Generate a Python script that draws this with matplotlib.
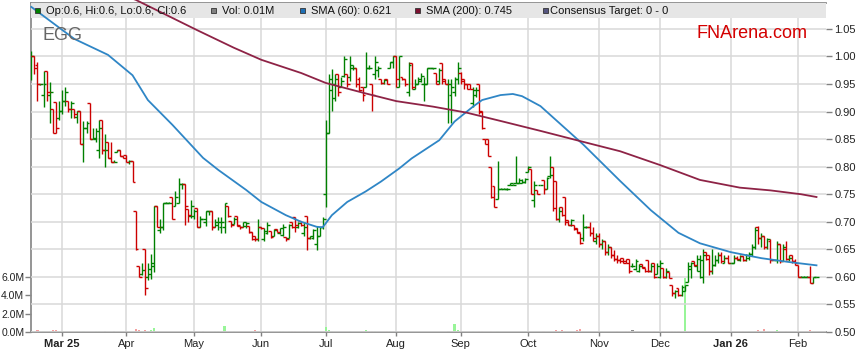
import numpy as np
import pandas as pd
import matplotlib
matplotlib.use('Agg')
import matplotlib.pyplot as plt
from matplotlib.collections import LineCollection
from matplotlib.patches import Rectangle

plt.rcParams['font.family'] = ['Liberation Sans', 'DejaVu Sans']

# trading days (weekdays) 17 Feb 2025 .. 10 Feb 2026
dates = pd.bdate_range('2025-02-17', '2026-02-10')

opens = [
    0.965, 1.000, 0.985, 0.950, 0.930, 0.974, 0.930, 0.904, 0.917, 0.889,  # Feb
    0.901, 0.920, 0.920, 0.904, 0.904, 0.890, 0.901, 0.841, 0.870, 0.916, 0.850,
    0.850, 0.830, 0.885, 0.830, 0.845, 0.815, 0.809, 0.826, 0.830, 0.820,  # Mar
    0.822, 0.809, 0.810, 0.720, 0.619, 0.605, 0.650, 0.600, 0.605, 0.620, 0.729,
    0.685, 0.690, 0.734, 0.734, 0.745, 0.729, 0.734, 0.768, 0.768, 0.723, 0.710,  # Apr
    0.710, 0.725, 0.691, 0.705, 0.700, 0.719, 0.719, 0.690, 0.695, 0.690, 0.690,
    0.729, 0.702, 0.696, 0.711, 0.693, 0.690, 0.692, 0.693, 0.682, 0.675, 0.668,  # May
    0.691, 0.668, 0.680, 0.684, 0.675, 0.687, 0.680, 0.676, 0.673, 0.670, 0.700,
    0.708, 0.690, 0.702, 0.680, 0.711, 0.670, 0.670, 0.660, 0.675, 0.690,  # Jun
    0.750, 0.862, 0.940, 0.925, 0.969, 0.945, 0.965, 0.969, 0.962, 0.980, 0.980, 0.960,
    0.944, 0.944, 0.980, 0.950, 0.968, 0.975, 0.960, 0.952, 0.960, 0.980, 0.990,  # Jul
    1.000, 0.944, 0.962, 0.959, 0.935, 0.989, 0.941, 0.950, 0.955, 0.950, 0.950,
    0.980, 0.980, 0.970, 0.955, 0.989, 0.960, 0.950, 0.930, 0.935, 0.960,  # Aug
    0.970, 0.960, 0.950, 0.950, 0.915, 0.930, 0.950, 0.901, 0.850, 0.850, 0.800,
    0.765, 0.741, 0.760, 0.760, 0.760, 0.766, 0.766, 0.770, 0.770, 0.770, 0.772,  # Sep
    0.790, 0.795, 0.740, 0.757, 0.766, 0.776, 0.760, 0.783, 0.800, 0.774, 0.705, 0.726,
    0.745, 0.704, 0.694, 0.695, 0.689, 0.680, 0.670, 0.690, 0.690, 0.680, 0.665,  # Oct
    0.675, 0.660, 0.665, 0.645, 0.655, 0.640, 0.632, 0.630, 0.635, 0.628,
    0.632, 0.620, 0.615, 0.610, 0.624, 0.616, 0.631, 0.610, 0.625, 0.605,  # Nov
    0.600, 0.617, 0.600, 0.609, 0.586, 0.570, 0.580, 0.568, 0.575, 0.590, 0.615, 0.628,
    0.620, 0.610, 0.600, 0.645, 0.640, 0.610, 0.622, 0.630, 0.640, 0.626, 0.635,  # Dec
    0.626, 0.626, 0.635, 0.630, 0.638, 0.630, 0.635, 0.642, 0.655, 0.690, 0.670,
    0.675, 0.655, 0.665, 0.630, 0.630, 0.660, 0.628, 0.650, 0.632, 0.640, 0.628,  # Jan
    0.622, 0.600, 0.600, 0.600, 0.600, 0.589, 0.600,  # Feb
]
highs = [
    1.010, 1.000, 0.990, 0.950, 0.974, 0.974, 0.953, 0.904, 0.917, 0.920,
    0.940, 0.945, 0.920, 0.920, 0.904, 0.901, 0.901, 0.883, 0.883, 0.916, 0.870,
    0.870, 0.885, 0.885, 0.860, 0.845, 0.845, 0.812, 0.830, 0.830, 0.820,
    0.822, 0.812, 0.810, 0.720, 0.619, 0.625, 0.650, 0.625, 0.641, 0.729, 0.729,
    0.705, 0.734, 0.736, 0.736, 0.745, 0.755, 0.779, 0.770, 0.768, 0.723, 0.739,
    0.723, 0.725, 0.710, 0.705, 0.719, 0.719, 0.719, 0.705, 0.708, 0.708, 0.735,
    0.729, 0.702, 0.708, 0.711, 0.693, 0.700, 0.700, 0.693, 0.682, 0.675, 0.705,
    0.691, 0.688, 0.700, 0.684, 0.687, 0.687, 0.688, 0.696, 0.673, 0.696, 0.700,
    0.708, 0.700, 0.702, 0.700, 0.711, 0.675, 0.687, 0.693, 0.691, 0.708,
    0.884, 0.969, 0.977, 0.969, 0.969, 0.962, 1.000, 0.969, 1.000, 0.985, 0.980, 0.962,
    0.944, 1.009, 0.985, 0.950, 1.000, 0.982, 0.960, 0.960, 0.960, 0.990, 1.000,
    1.000, 1.000, 0.962, 0.960, 0.990, 0.989, 0.960, 0.962, 0.970, 0.962, 0.980,
    0.980, 0.980, 0.970, 0.980, 0.989, 0.960, 0.960, 0.960, 0.962, 0.990,
    0.972, 0.960, 0.950, 0.950, 0.944, 0.944, 0.950, 0.901, 0.850, 0.850, 0.800,
    0.765, 0.810, 0.762, 0.762, 0.762, 0.771, 0.768, 0.820, 0.780, 0.777, 0.780,
    0.801, 0.795, 0.774, 0.757, 0.766, 0.776, 0.782, 0.820, 0.800, 0.774, 0.726, 0.726,
    0.745, 0.704, 0.705, 0.695, 0.689, 0.680, 0.715, 0.692, 0.700, 0.690, 0.680,
    0.680, 0.668, 0.665, 0.660, 0.655, 0.648, 0.640, 0.635, 0.635, 0.632,
    0.632, 0.625, 0.632, 0.624, 0.624, 0.616, 0.631, 0.625, 0.625, 0.626,
    0.631, 0.617, 0.617, 0.609, 0.586, 0.577, 0.580, 0.586, 0.586, 0.627, 0.627, 0.628,
    0.640, 0.640, 0.650, 0.645, 0.640, 0.650, 0.640, 0.645, 0.645, 0.640, 0.640,
    0.626, 0.640, 0.638, 0.640, 0.638, 0.642, 0.645, 0.660, 0.690, 0.692, 0.680,
    0.675, 0.670, 0.668, 0.630, 0.665, 0.660, 0.660, 0.665, 0.640, 0.640, 0.632,
    0.622, 0.602, 0.602, 0.602, 0.620, 0.600, 0.600,
]
lows = [
    0.957, 0.968, 0.920, 0.948, 0.909, 0.920, 0.880, 0.861, 0.861, 0.885,
    0.895, 0.910, 0.900, 0.889, 0.889, 0.880, 0.841, 0.809, 0.862, 0.850, 0.850,
    0.845, 0.815, 0.823, 0.800, 0.815, 0.809, 0.809, 0.826, 0.820, 0.815,
    0.809, 0.805, 0.773, 0.648, 0.599, 0.603, 0.568, 0.595, 0.596, 0.608, 0.691,
    0.680, 0.686, 0.734, 0.734, 0.705, 0.729, 0.734, 0.760, 0.694, 0.699, 0.707,
    0.705, 0.691, 0.691, 0.705, 0.692, 0.712, 0.686, 0.690, 0.686, 0.680, 0.680,
    0.708, 0.690, 0.696, 0.693, 0.687, 0.690, 0.689, 0.680, 0.667, 0.666, 0.665,
    0.687, 0.665, 0.677, 0.670, 0.675, 0.681, 0.678, 0.675, 0.666, 0.670, 0.688,
    0.681, 0.688, 0.693, 0.675, 0.649, 0.669, 0.668, 0.649, 0.675, 0.687,
    0.726, 0.862, 0.901, 0.920, 0.929, 0.944, 0.962, 0.944, 0.955, 0.975, 0.944, 0.937,
    0.920, 0.944, 0.978, 0.901, 0.960, 0.962, 0.950, 0.950, 0.950, 0.980, 0.980,
    0.944, 0.944, 0.958, 0.947, 0.929, 0.941, 0.941, 0.950, 0.953, 0.920, 0.950,
    0.980, 0.978, 0.950, 0.950, 0.950, 0.950, 0.880, 0.880, 0.929, 0.950,
    0.950, 0.941, 0.941, 0.941, 0.909, 0.927, 0.895, 0.868, 0.841, 0.820, 0.744,
    0.726, 0.741, 0.760, 0.760, 0.758, 0.766, 0.766, 0.770, 0.770, 0.770, 0.770,
    0.790, 0.750, 0.726, 0.750, 0.766, 0.750, 0.760, 0.780, 0.720, 0.704, 0.700, 0.710,
    0.695, 0.694, 0.692, 0.686, 0.680, 0.660, 0.665, 0.688, 0.675, 0.665, 0.660,
    0.655, 0.650, 0.640, 0.640, 0.635, 0.628, 0.625, 0.625, 0.625, 0.625,
    0.607, 0.618, 0.612, 0.609, 0.616, 0.609, 0.609, 0.609, 0.598, 0.605,
    0.598, 0.598, 0.598, 0.598, 0.565, 0.562, 0.565, 0.566, 0.574, 0.590, 0.598, 0.620,
    0.610, 0.598, 0.589, 0.630, 0.604, 0.605, 0.620, 0.625, 0.626, 0.626, 0.626,
    0.626, 0.626, 0.630, 0.628, 0.628, 0.628, 0.630, 0.638, 0.650, 0.660, 0.655,
    0.650, 0.650, 0.625, 0.630, 0.625, 0.625, 0.628, 0.630, 0.628, 0.626, 0.622,
    0.600, 0.600, 0.600, 0.600, 0.589, 0.589, 0.600,
]
closes = [
    1.000, 0.980, 0.950, 0.950, 0.950, 0.935, 0.935, 0.861, 0.870, 0.901,
    0.920, 0.935, 0.904, 0.915, 0.895, 0.901, 0.841, 0.870, 0.880, 0.850, 0.852,
    0.865, 0.870, 0.830, 0.830, 0.815, 0.809, 0.809, 0.830, 0.820, 0.815,
    0.809, 0.810, 0.773, 0.650, 0.599, 0.612, 0.580, 0.615, 0.625, 0.729, 0.691,
    0.690, 0.734, 0.734, 0.734, 0.705, 0.745, 0.768, 0.768, 0.729, 0.712, 0.729,
    0.720, 0.691, 0.705, 0.705, 0.719, 0.719, 0.690, 0.700, 0.700, 0.700, 0.734,
    0.710, 0.695, 0.705, 0.695, 0.690, 0.699, 0.697, 0.682, 0.668, 0.668, 0.691,
    0.688, 0.684, 0.695, 0.672, 0.685, 0.682, 0.688, 0.690, 0.668, 0.694, 0.690,
    0.695, 0.698, 0.695, 0.690, 0.670, 0.675, 0.685, 0.675, 0.690, 0.705,
    0.862, 0.960, 0.950, 0.960, 0.935, 0.955, 0.995, 0.950, 0.985, 0.980, 0.950, 0.940,
    0.930, 0.980, 0.980, 0.930, 0.990, 0.980, 0.952, 0.958, 0.950, 0.990, 1.000,
    0.960, 1.000, 0.960, 0.950, 0.985, 0.945, 0.950, 0.960, 0.965, 0.950, 0.980,
    0.980, 0.980, 0.950, 0.975, 0.955, 0.950, 0.950, 0.945, 0.960, 0.980,
    0.955, 0.950, 0.941, 0.941, 0.940, 0.940, 0.900, 0.870, 0.841, 0.820, 0.745,
    0.726, 0.760, 0.760, 0.760, 0.760, 0.770, 0.766, 0.770, 0.775, 0.772, 0.778,
    0.800, 0.750, 0.766, 0.750, 0.766, 0.760, 0.780, 0.785, 0.725, 0.705, 0.720, 0.712,
    0.700, 0.694, 0.703, 0.687, 0.682, 0.662, 0.690, 0.690, 0.680, 0.670, 0.675,
    0.660, 0.665, 0.645, 0.655, 0.640, 0.632, 0.630, 0.628, 0.626, 0.625,
    0.610, 0.620, 0.628, 0.620, 0.618, 0.610, 0.610, 0.620, 0.600, 0.620,
    0.625, 0.600, 0.610, 0.598, 0.570, 0.575, 0.568, 0.582, 0.585, 0.620, 0.625, 0.622,
    0.632, 0.630, 0.640, 0.632, 0.610, 0.622, 0.630, 0.640, 0.628, 0.635, 0.626,
    0.626, 0.635, 0.632, 0.638, 0.630, 0.640, 0.642, 0.655, 0.685, 0.670, 0.675,
    0.655, 0.668, 0.630, 0.630, 0.660, 0.628, 0.655, 0.632, 0.635, 0.628, 0.625,
    0.600, 0.600, 0.600, 0.600, 0.589, 0.600, 0.600,
]
# volume, millions of shares
volumes = [
    0.03, 0.03, 0.20, 0.03, 0.10, 0.03, 0.10, 0.22, 0.22, 0.10,
    0.07, 0.02, 0.02, 0.02, 0.02, 0.07, 0.02, 0.10, 0.02, 0.02, 0.02,
    0.10, 0.10, 0.02, 0.10, 0.02, 0.02, 0.10, 0.02, 0.02, 0.02,
    0.10, 0.02, 0.02, 0.33, 0.22, 0.11, 0.22, 0.11, 0.22, 0.44, 0.02,
    0.02, 0.02, 0.02, 0.02, 0.02, 0.02, 0.02, 0.02, 0.02, 0.02, 0.07,
    0.02, 0.02, 0.02, 0.10, 0.02, 0.02, 0.02, 0.07, 0.07, 0.02, 0.65,
    0.02, 0.02, 0.10, 0.02, 0.02, 0.02, 0.02, 0.02, 0.10, 0.22, 0.10,
    0.02, 0.07, 0.02, 0.02, 0.02, 0.02, 0.07, 0.10, 0.02, 0.10, 0.10,
    0.10, 0.02, 0.02, 0.10, 0.07, 0.02, 0.02, 0.02, 0.02, 0.02,
    0.55, 0.22, 0.10, 0.02, 0.02, 0.02, 0.02, 0.02, 0.10, 0.02, 0.02, 0.02,
    0.10, 0.22, 0.02, 0.10, 0.10, 0.02, 0.02, 0.02, 0.07, 0.10, 0.02,
    0.02, 0.02, 0.02, 0.02, 0.02, 0.02, 0.02, 0.02, 0.02, 0.02, 0.02,
    0.02, 0.02, 0.02, 0.02, 0.02, 0.02, 0.10, 0.02, 0.87, 0.22,
    0.10, 0.02, 0.02, 0.02, 0.10, 0.02, 0.10, 0.10, 0.02, 0.02, 0.07,
    0.02, 0.10, 0.02, 0.02, 0.02, 0.02, 0.02, 0.02, 0.02, 0.02, 0.10,
    0.02, 0.02, 0.02, 0.02, 0.02, 0.10, 0.02, 0.02, 0.02, 0.22, 0.10, 0.22,
    0.10, 0.02, 0.10, 0.02, 0.22, 0.33, 0.10, 0.02, 0.02, 0.02, 0.02,
    0.10, 0.10, 0.02, 0.02, 0.02, 0.02, 0.07, 0.02, 0.02, 0.10,
    0.10, 0.22, 0.02, 0.02, 0.02, 0.02, 0.02, 0.02, 0.07, 0.02,
    0.02, 0.07, 0.02, 0.02, 0.10, 0.10, 0.10, 0.02, 5.80, 0.02, 0.10, 0.10,
    0.10, 0.02, 0.10, 0.10, 0.10, 0.02, 0.02, 0.07, 0.02, 0.02, 0.02,
    0.02, 0.02, 0.02, 0.02, 0.10, 0.02, 0.10, 0.02, 0.10, 0.22, 0.02,
    0.33, 0.02, 0.02, 0.02, 0.22, 0.02, 0.02, 0.10, 0.02, 0.02, 0.02,
    0.10, 0.02, 0.02, 0.02, 0.22, 0.02, 0.01,
]
# moving averages (trading-day number, value)
sma60_day = [0, 14, 25, 33, 38, 46, 56, 61, 70, 75, 83, 88, 93, 95, 98, 103, 109, 114,
             120, 124, 133, 138, 144, 147, 153, 157, 160, 166, 172, 180, 192, 202, 211,
             218, 228, 238, 247, 256]
sma60_val = [1.090, 1.032, 1.003, 0.966, 0.921, 0.876, 0.816, 0.794, 0.758, 0.736, 0.712,
             0.700, 0.691, 0.690, 0.712, 0.736, 0.755, 0.773, 0.797, 0.815, 0.848, 0.882,
             0.909, 0.921, 0.930, 0.932, 0.928, 0.910, 0.880, 0.840, 0.774, 0.721, 0.680,
             0.661, 0.645, 0.634, 0.627, 0.621]
sma200_day = [0, 17, 34, 54, 60, 66, 75, 88, 96, 109, 119, 131, 142, 153, 166, 180, 192,
              205, 218, 231, 241, 251, 256]
sma200_val = [1.160, 1.135, 1.103, 1.048, 1.032, 1.016, 0.994, 0.970, 0.952, 0.933, 0.919,
              0.909, 0.898, 0.883, 0.865, 0.845, 0.828, 0.803, 0.776, 0.762, 0.757, 0.750,
              0.745]

price_ticks = [0.50, 0.55, 0.60, 0.65, 0.70, 0.75, 0.80, 0.85, 0.90, 0.95, 1.00, 1.05]
vol_ticks = [0, 2, 4, 6]

n = len(closes)
x = np.arange(n)

W, H = 859, 363
L, R, T, B = 30.5, 826, 3, 332
fig = plt.figure(figsize=(W / 100, H / 100), dpi=100)
axv = fig.add_axes([L / W, (H - B) / H, (R - L) / W, (B - T) / H])
axp = axv.twinx()

axv.set_xlim(-0.26, 259.1)
axv.set_ylim(0, (B - T) / 9.23)
axp.set_ylim(0.50, 0.50 + (B - T) * 0.05 / 27.55)

# volume
vcol = []
for o, c in zip(opens, closes):
    vcol.append('#98f598' if c > o else ('#f5a0a0' if c < o else '#8a8a8a'))
axv.bar(x, volumes, width=0.7, color=vcol, linewidth=0, zorder=2)

# ohlc bars
tw = 0.95
green, red = [], []
for i in range(n):
    segs = [[(i, lows[i]), (i, highs[i])],
            [(i - tw, opens[i]), (i, opens[i])],
            [(i, closes[i]), (i + tw, closes[i])]]
    (green if closes[i] >= opens[i] else red).extend(segs)
axp.add_collection(LineCollection(green, colors='#008000', linewidths=1.0, zorder=2))
axp.add_collection(LineCollection(red, colors='#cc0000', linewidths=1.0, zorder=2))

axp.plot(sma60_day, sma60_val, color='#2f86c6', lw=1.3, zorder=3, clip_on=False)
axp.plot(sma200_day, sma200_val, color='#8e2346', lw=1.3, zorder=3, clip_on=False)

# legend band across the top of the plot
band = 15 / (B - T)
axp.add_patch(Rectangle((0, 1 - band), 1, band, transform=axp.transAxes,
                        facecolor='#e6e6e6', edgecolor='none', zorder=1))

# month ticks
month_pos = [i for i in range(1, n) if dates[i].month != dates[i - 1].month]
month_lab = []
for k, i in enumerate(month_pos):
    d = dates[i]
    month_lab.append(d.strftime('%b %y') if (k == 0 or d.month == 1) else d.strftime('%b'))
axv.set_xticks(month_pos)
axv.set_xticklabels(month_lab)
for lab in axv.get_xticklabels():
    if ' ' in lab.get_text():
        lab.set_fontweight('bold')
axv.grid(axis='x', color='#d9d9d9', lw=1.1)
axv.set_axisbelow(True)

axp.set_yticks(price_ticks)
axp.set_yticklabels(['%.2f' % v for v in price_ticks])
axp.grid(axis='y', color='#d9d9d9', lw=1.1)
axp.set_axisbelow(True)

axv.set_yticks(vol_ticks)
axv.set_yticklabels(['%.1fM' % v for v in vol_ticks])

axv.tick_params(axis='x', length=3, width=1, color='#808080', labelsize=8, pad=2,
                labelcolor='#222222')
axv.tick_params(axis='y', length=4, width=1, color='#808080', labelsize=7.5, pad=0.5,
                labelcolor='#222222')
axp.tick_params(axis='y', length=4, width=1, color='#808080', labelsize=8, pad=2,
                labelcolor='#222222')

for s in ['left', 'bottom', 'top']:
    axv.spines[s].set_color('#8c8c8c')
    axv.spines[s].set_linewidth(1.3)
axv.spines['right'].set_visible(False)
for s in axp.spines.values():
    s.set_visible(False)


def fx(px):
    return px / W


def fy(py):
    return 1 - py / H


legend_items = [
    (34.5, '#008000', 46.5, 'Op:%g, Hi:%g, Lo:%g, Cl:%g' % (opens[-1], highs[-1], lows[-1], closes[-1])),
    (211, '#808080', 222.5, 'Vol: %.2fM' % volumes[-1]),
    (300, '#1f6fb4', 311, 'SMA (60): %.3f' % sma60_val[-1]),
    (415, '#7b1030', 425.5, 'SMA (200): %.3f' % sma200_val[-1]),
    (543, '#55557f', 550, 'Consensus Target: 0 - 0'),
]
for sx, col, tx, txt in legend_items:
    fig.add_artist(Rectangle((fx(sx), fy(13)), 5 / W, 5 / H, transform=fig.transFigure,
                             facecolor=col, edgecolor='#333333', linewidth=0.6, zorder=4))
    fig.text(fx(tx), fy(10.5), txt, fontsize=8, color='#111111', va='center', ha='left')

fig.text(fx(42.5), fy(39.5), 'EGG', fontsize=13, color='#666666', va='baseline')
fig.text(fx(696), fy(37.5), 'FNArena.com', fontsize=13, color='#d40000', va='baseline')

fig.savefig('out.png', dpi=100)
plt.close()
